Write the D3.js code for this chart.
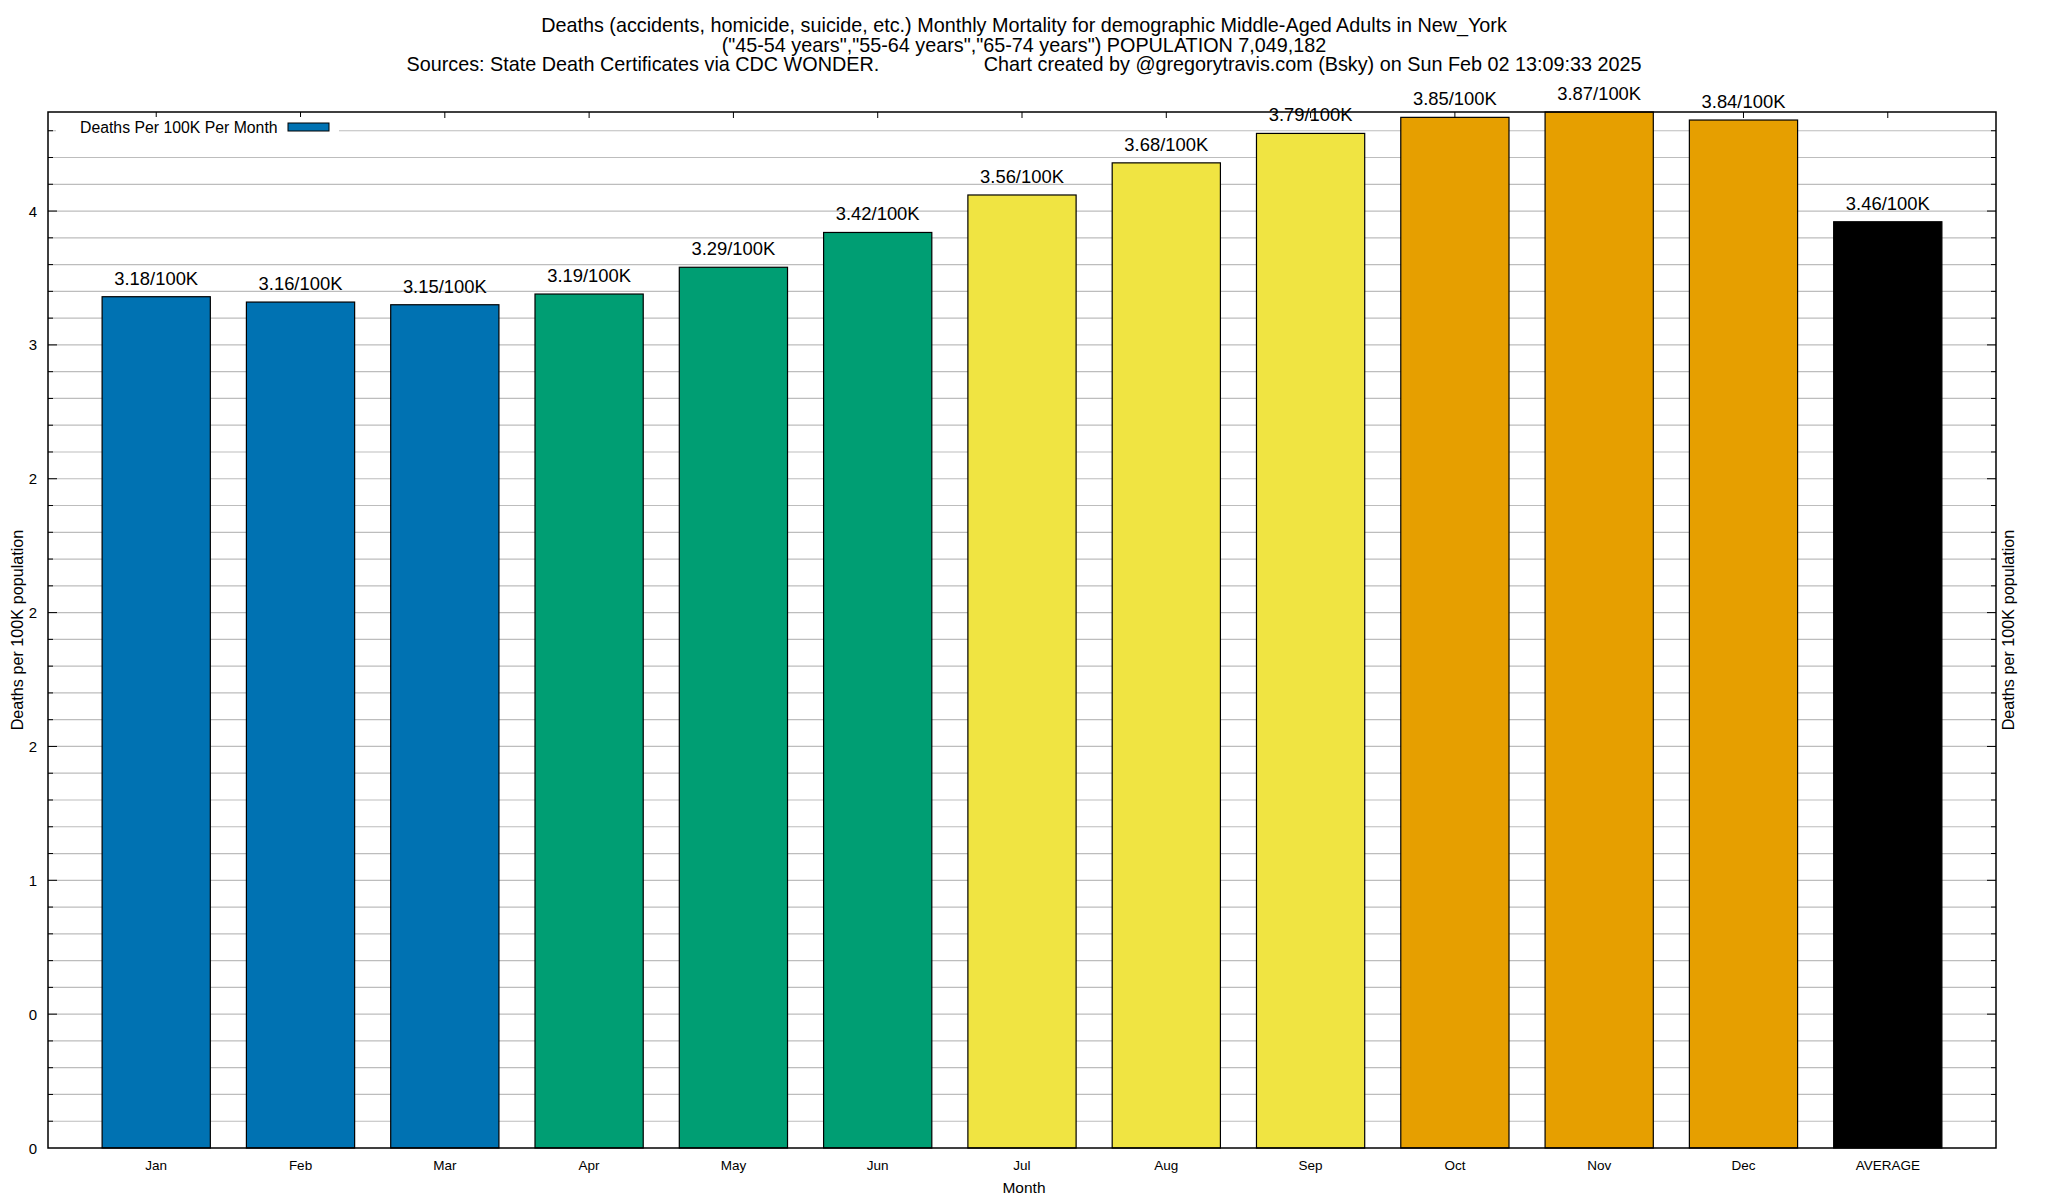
<!DOCTYPE html>
<html>
<head>
<meta charset="utf-8">
<script src="https://cdn.jsdelivr.net/npm/d3@7"></script>
<style>
  body { margin: 0; background: #fff; }
  svg { font-family: "Liberation Sans", Arial, Helvetica, sans-serif; }
  text { white-space: pre; }
</style>
</head>
<body>
<svg id="chart" width="2048" height="1200"></svg>
<script>
// Chart data
const months = ["Jan", "Feb", "Mar", "Apr", "May", "Jun", "Jul", "Aug", "Sep", "Oct", "Nov", "Dec", "AVERAGE"];
const deathRates = [3.18, 3.16, 3.15, 3.19, 3.29, 3.42, 3.56, 3.68, 3.79, 3.85, 3.87, 3.84, 3.46];
const barColors = ["#0072b2", "#0072b2", "#0072b2", "#009e73", "#009e73", "#009e73",
                   "#f0e442", "#f0e442", "#f0e442", "#e69f00", "#e69f00", "#e69f00", "#000000"];
const yTickValues = [0, 0.5, 1, 1.5, 2, 2.5, 3, 3.5];
const yTickLabels = ["0", "0", "1", "2", "2", "2", "3", "4"];
const titleLines = [
    "Deaths (accidents, homicide, suicide, etc.) Monthly Mortality for demographic Middle-Aged Adults in New_York",
    "(\"45-54 years\",\"55-64 years\",\"65-74 years\") POPULATION 7,049,182",
    "Sources: State Death Certificates via CDC WONDER.                   Chart created by @gregorytravis.com (Bsky) on Sun Feb 02 13:09:33 2025"
];
const legendLabel = "Deaths Per 100K Per Month";

// Plot area
const plot = { left: 48, right: 1996, top: 112, bottom: 1148 };
const svg = d3.select("#chart");

const xScale = d3.scaleLinear().domain([-0.75, months.length - 0.25]).range([plot.left, plot.right]);
const yScale = d3.scaleLinear().domain([0, d3.max(deathRates)]).range([plot.bottom, plot.top]);
const barHalf = 0.375;

// Title
svg.selectAll(".title").data(titleLines).enter().append("text")
    .attr("class", "title")
    .attr("x", 1024)
    .attr("y", (d, i) => 32 + i * 19.5)
    .attr("text-anchor", "middle")
    .attr("font-size", "19.8px")
    .text(d => d);

// Minor grid every 0.1
const minorTicks = d3.range(1, 40).map(i => i / 10).filter(v => v <= yScale.domain()[1]);
svg.append("g").selectAll("line").data(minorTicks).enter().append("line")
    .attr("x1", plot.left).attr("x2", plot.right)
    .attr("y1", d => yScale(d)).attr("y2", d => yScale(d))
    .attr("stroke", "#bdbdbd").attr("stroke-width", 1.2);

// y ticks on both sides
const tickG = svg.append("g").attr("stroke", "#000").attr("stroke-width", 1);
minorTicks.forEach(v => {
    const major = yTickValues.some(t => Math.abs(t - v) < 1e-9);
    const len = major ? 9 : 5;
    tickG.append("line").attr("x1", plot.left).attr("x2", plot.left + len)
        .attr("y1", yScale(v)).attr("y2", yScale(v));
    tickG.append("line").attr("x1", plot.right).attr("x2", plot.right - len)
        .attr("y1", yScale(v)).attr("y2", yScale(v));
});

// x ticks on top (mirror) and bottom
months.forEach((m, i) => {
    tickG.append("line").attr("x1", xScale(i)).attr("x2", xScale(i))
        .attr("y1", plot.top).attr("y2", plot.top + 6);
    tickG.append("line").attr("x1", xScale(i)).attr("x2", xScale(i))
        .attr("y1", plot.bottom).attr("y2", plot.bottom - 6);
});

// Legend box
svg.append("rect")
    .attr("x", 56).attr("y", 117).attr("width", 283).attr("height", 26)
    .attr("fill", "#fff");
svg.append("text")
    .attr("x", 80).attr("y", 133)
    .attr("font-size", "15.8px")
    .text(legendLabel);
svg.append("rect")
    .attr("x", 288).attr("y", 123).attr("width", 41).attr("height", 8)
    .attr("fill", barColors[0]).attr("stroke", "#000").attr("stroke-width", 1);

// Bars
svg.append("g").selectAll("rect").data(deathRates).enter().append("rect")
    .attr("x", (d, i) => xScale(i - barHalf))
    .attr("width", (d, i) => xScale(i + barHalf) - xScale(i - barHalf))
    .attr("y", d => yScale(d))
    .attr("height", d => plot.bottom - yScale(d))
    .attr("fill", (d, i) => barColors[i])
    .attr("stroke", "#000").attr("stroke-width", 1.2);

// Bar value labels
svg.append("g").selectAll("text").data(deathRates).enter().append("text")
    .attr("x", (d, i) => xScale(i))
    .attr("y", d => yScale(d) - 12)
    .attr("text-anchor", "middle")
    .attr("font-size", "18.4px")
    .text(d => `${d.toFixed(2)}/100K`);

// Plot frame
svg.append("rect")
    .attr("x", plot.left).attr("y", plot.top)
    .attr("width", plot.right - plot.left).attr("height", plot.bottom - plot.top)
    .attr("fill", "none").attr("stroke", "#000").attr("stroke-width", 1.5);

// y tick labels
svg.append("g").selectAll("text").data(yTickValues).enter().append("text")
    .attr("x", 37)
    .attr("y", d => yScale(d) + 5.5)
    .attr("text-anchor", "end")
    .attr("font-size", "15px")
    .text((d, i) => yTickLabels[i]);

// x tick labels
svg.append("g").selectAll("text").data(months).enter().append("text")
    .attr("x", (d, i) => xScale(i))
    .attr("y", plot.bottom + 22)
    .attr("text-anchor", "middle")
    .attr("font-size", "13.5px")
    .text(d => d);

// Axis titles
svg.append("text")
    .attr("x", 1024).attr("y", 1193)
    .attr("text-anchor", "middle")
    .attr("font-size", "15.5px")
    .text("Month");

[17, 2008].forEach(xPos => {
    svg.append("text")
        .attr("transform", `translate(${xPos},${(plot.top + plot.bottom) / 2}) rotate(-90)`)
        .attr("dy", "0.35em")
        .attr("text-anchor", "middle")
        .attr("font-size", "16.2px")
        .text("Deaths per 100K population");
});
</script>
</body>
</html>
